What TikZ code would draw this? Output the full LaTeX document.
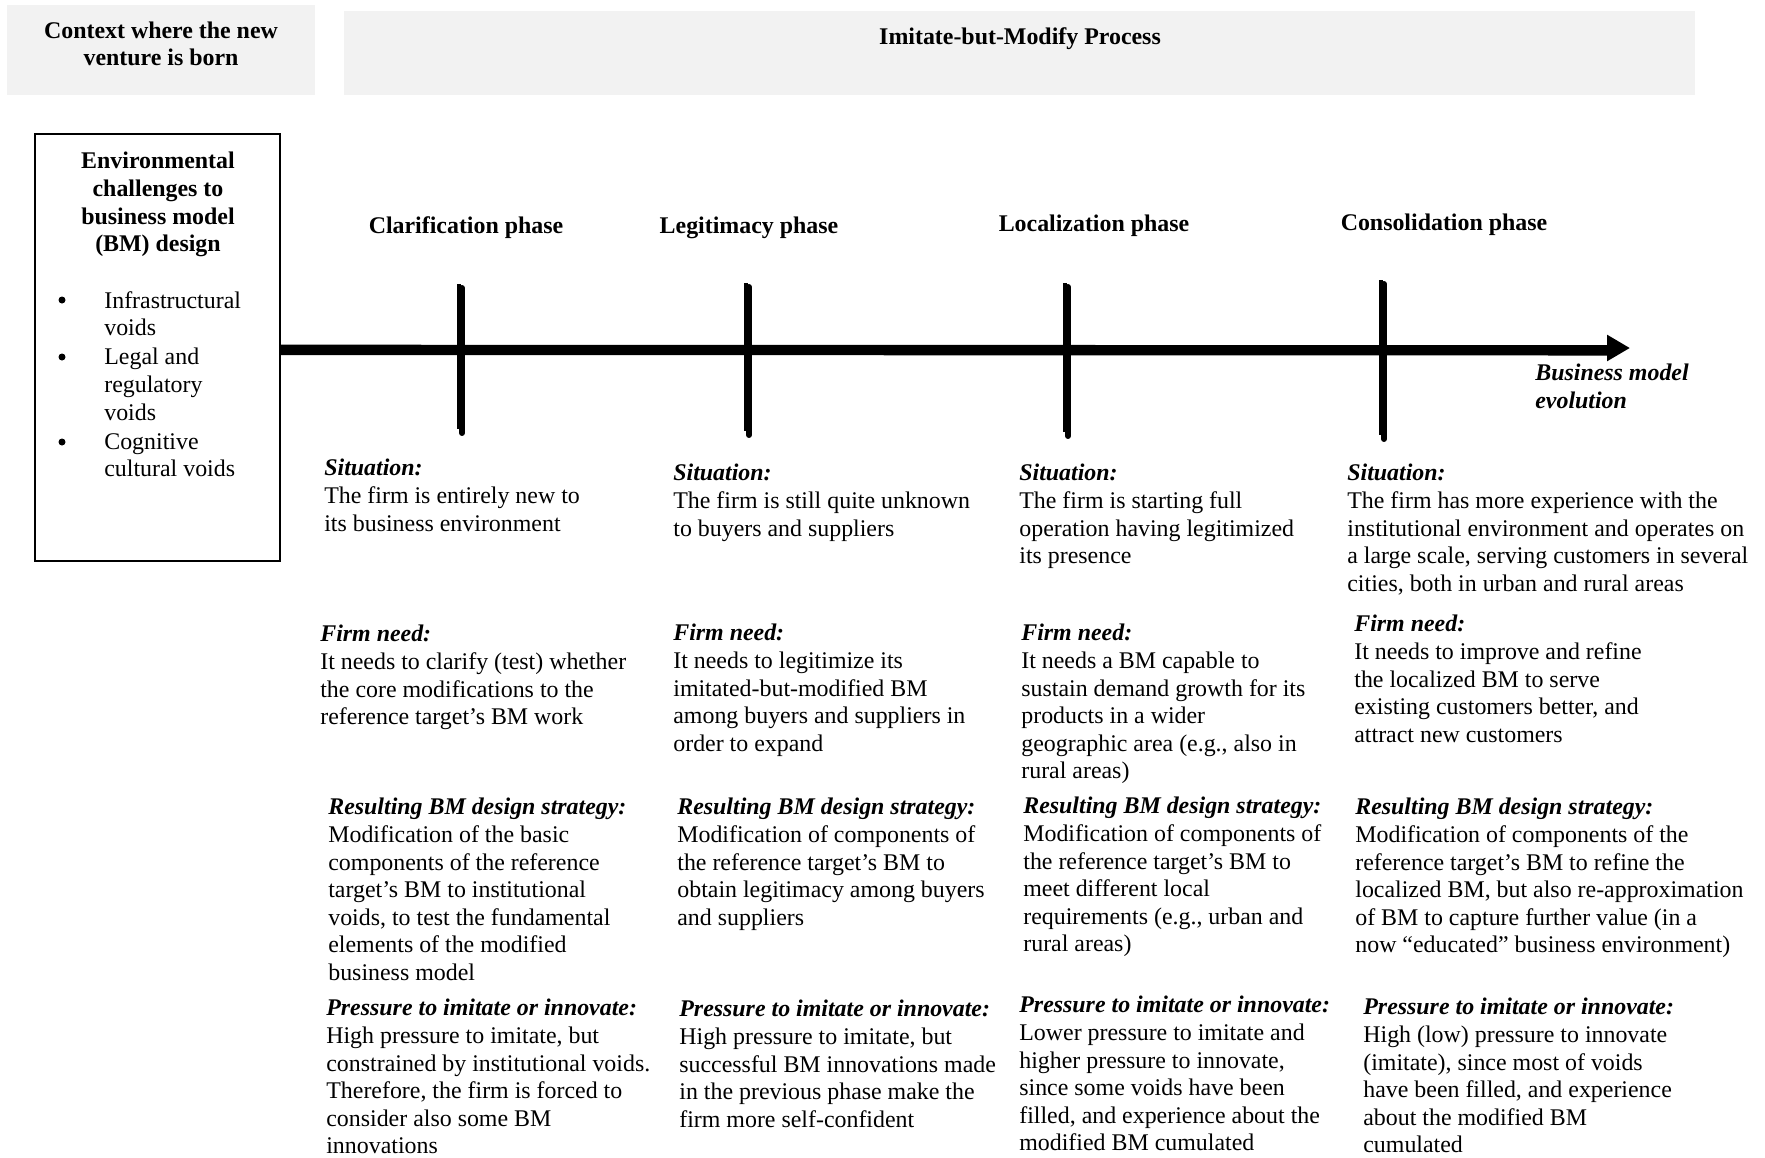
\documentclass[tikz,border=0pt]{standalone}
\usepackage{fontspec}
\setmainfont{Liberation Serif}
\usepackage{tikz}
\usetikzlibrary{shapes,arrows,arrows.meta,positioning}
\definecolor{panel}{RGB}{242,242,242}
\definecolor{shade}{RGB}{200,200,200}
\newcommand{\txtsize}{\fontsize{13.6pt}{15.7pt}\selectfont}
\newcommand{\hd}[1]{\textbf{\textit{#1}}}

\begin{document}
\begin{tikzpicture}[x=0.02cm, y=-0.02cm,
    txt/.style={anchor=north west, inner sep=0pt, align=left, font=\txtsize},
    phase/.style={inner sep=0pt, font=\txtsize\bfseries},
    panelbox/.style={fill=panel, draw=none, inner sep=0pt},
    dot/.style={circle, fill, inner sep=0pt, minimum size=0.14cm},
    tick/.style={line width=2.6pt},
    tickshadow/.style={line width=3.4pt, shade, line cap=round}]
\useasboundingbox (0,0) rectangle (1765,1157);

\node[panelbox, minimum width=6.16cm, minimum height=1.8cm] (ctxbox) at (161,50) {};
\node[phase, align=center] (ctx) at (161,44) {Context where the new\\venture is born};
\node[panelbox, minimum width=27.02cm, minimum height=1.68cm] (procbox) at (1019.5,53) {};
\node[phase] (proc) at (1020,38.5) {Imitate-but-Modify Process};

\node[draw, line width=1.2pt, minimum width=4.9cm, minimum height=8.54cm, inner sep=0pt] (env) at (157.5,347.5) {};
\node[phase, align=center, anchor=north] (envtitle) at (158,152) {Environmental\\challenges to\\business model\\(BM) design};
\node[txt] (void1) at (104,291) {Infrastructural\\voids};
\node[txt] (void2) at (104,348) {Legal and\\regulatory\\voids};
\node[txt] (void3) at (104,433) {Cognitive\\cultural voids};
\node[dot] (b1) at (62,300) {};
\node[dot] (b2) at (62,357) {};
\node[dot] (b3) at (62,442) {};

\coordinate (evolend) at (1630,348);
\draw[line width=4pt, shade] ([shift={(0,4)}]env.east) -- ([shift={(-20,4)}]evolend);
\foreach \x/\a/\b in {459/284/429, 746/283/431, 1065/283/432, 1381/280/435}
  \draw[tickshadow] (\x+3,\a+4) -- (\x+3,\b+4);
\draw[line width=3.2pt, -{Triangle[length=0.46cm, width=0.5cm]}] (env.east) -- (evolend);
\foreach \x/\a/\b in {459/284/429, 746/283/431, 1065/283/432, 1381/280/435}
  \draw[tick] (\x,\a) -- (\x,\b);

\node[phase] (clar) at (466,227.5) {Clarification phase};
\node[phase] (legit) at (749,227.5) {Legitimacy phase};
\node[phase] (local) at (1094,225.5) {Localization phase};
\node[phase] (consol) at (1444,224.5) {Consolidation phase};
\node[txt, font=\txtsize\bfseries\itshape] (evol) at (1535,364) {Business model\\evolution};

\node[txt] (sit1) at (324,459) {\hd{Situation:}\\The firm is entirely new to\\its business environment};
\node[txt] (need1) at (320,625) {\hd{Firm need:}\\It needs to clarify (test) whether\\the core modifications to the\\reference target's BM work};
\node[txt] (res1) at (328,798) {\hd{Resulting BM design strategy:}\\Modification of the basic\\components of the reference\\target's BM to institutional\\voids, to test the fundamental\\elements of the modified\\business model};
\node[txt] (pres1) at (326,999) {\hd{Pressure to imitate or innovate:}\\High pressure to imitate, but\\constrained by institutional voids.\\Therefore, the firm is forced to\\consider also some BM\\innovations};

\node[txt] (sit2) at (673,464) {\hd{Situation:}\\The firm is still quite unknown\\to buyers and suppliers};
\node[txt] (need2) at (673,624) {\hd{Firm need:}\\It needs to legitimize its\\imitated-but-modified BM\\among buyers and suppliers in\\order to expand};
\node[txt] (res2) at (677,798) {\hd{Resulting BM design strategy:}\\Modification of components of\\the reference target's BM to\\obtain legitimacy among buyers\\and suppliers};
\node[txt] (pres2) at (679,1000) {\hd{Pressure to imitate or innovate:}\\High pressure to imitate, but\\successful BM innovations made\\in the previous phase make the\\firm more self-confident};

\node[txt] (sit3) at (1019,464) {\hd{Situation:}\\The firm is starting full\\operation having legitimized\\its presence};
\node[txt] (need3) at (1021,624) {\hd{Firm need:}\\It needs a BM capable to\\sustain demand growth for its\\products in a wider\\geographic area (e.g., also in\\rural areas)};
\node[txt] (res3) at (1023,797) {\hd{Resulting BM design strategy:}\\Modification of components of\\the reference target's BM to\\meet different local\\requirements (e.g., urban and\\rural areas)};
\node[txt] (pres3) at (1019,996) {\hd{Pressure to imitate or innovate:}\\Lower pressure to imitate and\\higher pressure to innovate,\\since some voids have been\\filled, and experience about the\\modified BM cumulated};

\node[txt] (sit4) at (1347,464) {\hd{Situation:}\\The firm has more experience with the\\institutional environment and operates on\\a large scale, serving customers in several\\cities, both in urban and rural areas};
\node[txt] (need4) at (1354,615) {\hd{Firm need:}\\It needs to improve and refine\\the localized BM to serve\\existing customers better, and\\attract new customers};
\node[txt] (res4) at (1355,798) {\hd{Resulting BM design strategy:}\\Modification of components of the\\reference target's BM to refine the\\localized BM, but also re-approximation\\of BM to capture further value (in a\\now ``educated'' business environment)};
\node[txt] (pres4) at (1363,998) {\hd{Pressure to imitate or innovate:}\\High (low) pressure to innovate\\(imitate), since most of voids\\have been filled, and experience\\about the modified BM\\cumulated};
\end{tikzpicture}
\end{document}
